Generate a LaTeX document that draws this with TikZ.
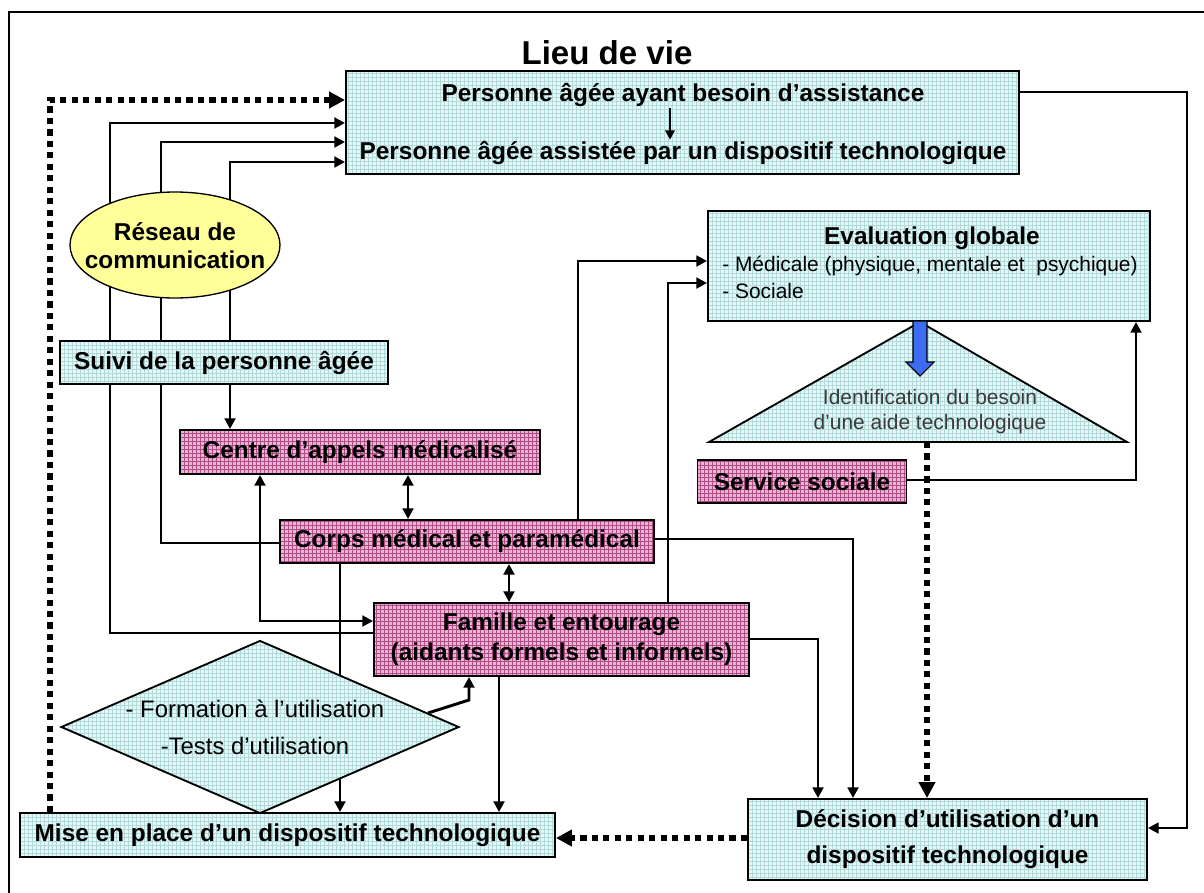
\documentclass[tikz,border=0pt]{standalone}
\usepackage{fontspec}
\setmainfont{Liberation Sans}
\usetikzlibrary{arrows.meta,patterns,shapes.geometric,calc}
\pgfdeclarelayer{bg}
\pgfsetlayers{bg,main}
\definecolor{cyanbg}{HTML}{E8F6F6}
\definecolor{cyangrid}{HTML}{B0DADA}
\definecolor{pinkbg}{HTML}{E4B8D2}
\definecolor{pinkgrid}{HTML}{B24C86}
\definecolor{yell}{HTML}{FFFF99}
\definecolor{bluearrow}{HTML}{3C6CF2}
\definecolor{tritext}{HTML}{3A3A3A}
\tikzset{
 boxbase/.style={draw=black, line width=1.4pt, inner sep=0pt},
 cbox/.style={boxbase, preaction={fill=cyanbg}, pattern=grid, pattern color=cyangrid},
 pbox/.style={boxbase, preaction={fill=pinkbg}, pattern=grid, pattern color=pinkgrid},
 btext/.style={font=\fontsize{18.3}{22}\selectfont\bfseries, inner sep=1pt},
 rtext/.style={font=\fontsize{15.7}{19}\selectfont, inner sep=0pt},
 conn/.style={line width=2.2pt, -{Triangle[length=8pt,width=8pt]}},
 biconn/.style={line width=2.2pt, {Triangle[length=8pt,width=8pt]}-{Triangle[length=8pt,width=8pt]}},
 dotconn/.style={line width=3.8pt, dash pattern=on 4.6pt off 4pt, -{Triangle[length=12pt,width=12pt]}},
}
\begin{document}
\begin{tikzpicture}[x=0.75pt,y=-0.75pt]
\useasboundingbox (0,0) rectangle (1204,893);
\draw[line width=0.9pt] (9,893) -- (9,12) -- (1204,12);

% title
\node[font=\fontsize{24.8}{28}\selectfont\bfseries] (title) at (607,53) {Lieu de vie};

% top box
\node[cbox, minimum width=504.75pt, minimum height=77.25pt] (p1) at (682.5,122.5) {};
\node[btext] (p1a) at (683,95) {Personne âgée ayant besoin d’assistance};
\node[btext] (p1b) at (683,153) {Personne âgée assistée par un dispositif technologique};

% ellipse
\node[ellipse, draw=black, line width=1pt, fill=yell, minimum width=157.5pt, minimum height=79.5pt, inner sep=0pt] (res) at (175,245) {};
\node[align=center, inner sep=0pt, font=\fontsize{18.3}{21}\selectfont\bfseries] (rest) at (175,246) {Réseau de\\communication};

% suivi
\node[cbox, btext, minimum width=246pt, minimum height=32.25pt] (suivi) at (224,362.5) {Suivi de la personne âgée};

% pink boxes
\node[pbox, btext, minimum width=270pt, minimum height=33pt] (centre) at (360,452) {Centre d’appels médicalisé};
\node[pbox, btext, minimum width=156.75pt, minimum height=32.25pt] (serv) at (802,481.5) {Service sociale};
\node[pbox, btext, minimum width=280.5pt, minimum height=32.25pt] (corps) at (467,541.5) {Corps médical et paramédical};
\node[pbox, minimum width=281.25pt, minimum height=54.75pt, inner sep=0pt, align=center,
      font=\fontsize{18.3}{22.5}\selectfont\bfseries] (fam) at (561.5,639.5) {Famille et entourage\\(aidants formels et informels)};

% evaluation
\node[cbox, minimum width=331.5pt, minimum height=82.5pt] (eval) at (929,266) {};
\node[btext] (evt) at (932,238) {Evaluation globale};
\node[rtext, anchor=west] (ev1) at (722,266) {- Médicale (physique, mentale et\ \ psychique)};
\node[rtext, anchor=west] (ev2) at (722,291) {- Sociale};

% triangle
\draw[line width=1.4pt, preaction={fill=cyanbg}, pattern=grid, pattern color=cyangrid]
  (920,322) -- (1127,442) -- (709,442) -- cycle;
\coordinate (tb) at (927,442);
\node[font=\fontsize{15.7}{18.75}\selectfont, text=tritext, align=center, inner sep=0pt] (tri) at (930,412)
  {Identification du besoin\\d’une aide technologique};
\draw[fill=bluearrow, line width=0.8pt] (913,321) -- (927,321) -- (927,362) -- (934,362) -- (920,376) -- (906,362) -- (913,362) -- cycle;

% diamond
\node[diamond, draw=black, line width=1.4pt, preaction={fill=cyanbg}, pattern=grid, pattern color=cyangrid,
      minimum width=298.5pt, minimum height=129.75pt, inner sep=0pt] (dia) at (260,727) {};
\node[font=\fontsize{17.9}{27.75}\selectfont, align=center, inner sep=0pt] (diat) at (255,727)
  {- Formation à l’utilisation\\-Tests d’utilisation};

% bottom boxes
\node[cbox, btext, minimum width=401.25pt, minimum height=33pt] (mise) at (287.5,835) {Mise en place d’un dispositif technologique};
\node[cbox, minimum width=299.25pt, minimum height=60.75pt, inner sep=0pt, align=center,
      font=\fontsize{18.3}{27}\selectfont\bfseries] (dec) at (947.5,839.5) {Décision d’utilisation d’un\\dispositif technologique};

% coordinates
\coordinate (k1) at (50,100);
\coordinate (k2a) at (110,633); \coordinate (k2) at (110,123);
\coordinate (k3a) at (161,543); \coordinate (k3) at (161,142);
\coordinate (k4) at (230,162);
\coordinate (k5) at (260,621);
\coordinate (k6) at (408,0);
\coordinate (k7) at (509,0);
\coordinate (k8) at (340,0);
\coordinate (k9) at (499,0);
\coordinate (k10) at (469,700);
\coordinate (k11) at (578,261);
\coordinate (k12) at (668,283);
\coordinate (k13) at (1136,480);
\coordinate (k14) at (853,539);
\coordinate (k15) at (818,639);
\coordinate (k16) at (1187,92); \coordinate (k16b) at (1187,828);
\coordinate (k17) at (0,838);
\coordinate (k19) at (670,0);

\draw[line width=1.7pt, -{Triangle[length=7pt,width=7pt]}] (p1a.south -| k19) -- (p1b.north -| k19);

\begin{pgfonlayer}{bg}
\draw[dotconn] (mise.north -| k1) |- (p1.west |- k1);
\draw[conn] (fam.west |- k2a) -| (k2) -- (p1.west |- k2);
\draw[conn] (corps.west |- k3a) -| (k3) -- (p1.west |- k3);
\draw[biconn] (centre.north -| k4) -- (k4) -- (p1.west |- k4);
\draw[biconn] (centre.south -| k5) |- (fam.west |- k5);
\draw[biconn] (centre.south -| k6) -- (corps.north -| k6);
\draw[biconn] (corps.south -| k7) -- (fam.north -| k7);
\draw[conn] (corps.south -| k8) -- (mise.north -| k8);
\draw[conn] (fam.south -| k9) -- (mise.north -| k9);
\draw[conn] ($(dia.north)!0.84!(dia.east)$) -- (k10) -- (fam.south -| k10);
\draw[conn] (corps.north -| k11) |- (eval.west |- k11);
\draw[conn] (fam.north -| k12) |- (eval.west |- k12);
\draw[conn] (serv.east |- k13) -| (eval.south -| k13);
\draw[conn] (corps.east |- k14) -| (dec.north -| k14);
\draw[conn] (fam.east |- k15) -| (dec.north -| k15);
\draw[conn] (p1.east |- k16) -| (k16b) -- (dec.east |- k16b);
\draw[dotconn] (dec.west |- k17) -- (mise.east |- k17);
\draw[dotconn] (tb) -- (dec.north -| tb);
\end{pgfonlayer}
\end{tikzpicture}
\end{document}
